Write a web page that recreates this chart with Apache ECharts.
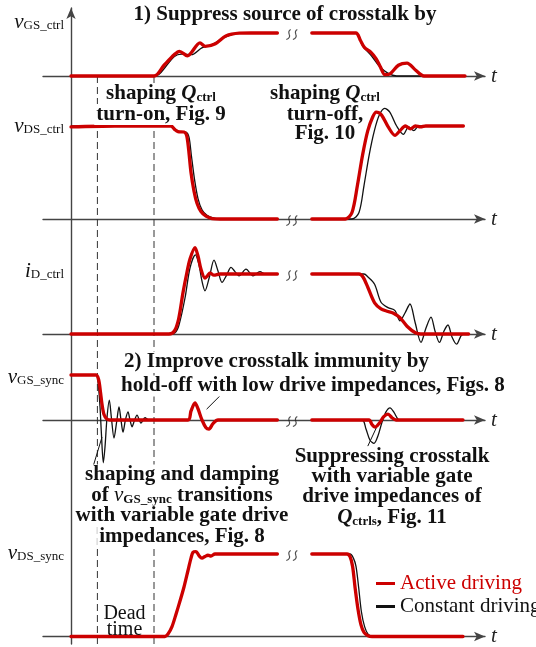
<!DOCTYPE html>
<html>
<head>
<meta charset="utf-8">
<script src="https://cdn.jsdelivr.net/npm/echarts@6/dist/echarts.min.js"></script>
<style>
  html, body { margin: 0; padding: 0; background: #fff; }
  #chart { width: 536px; height: 647px; }
</style>
</head>
<body>
<div id="chart"></div>
<script>
// ---- Waveform data: [time (a.u.), normalised level] ; '-' marks the time-axis break ----
const BREAK_T = 55.2;
const deadTime = [6.6, 20.75];

// v_GS_ctrl
const vGsCtrlActive = [[0,0],[20.75,0],[23.25,0.25],[25.85,0.5],[27.1,0.575],[29.1,0.47],[32.25,0.77],[33.55,0.69],[36.1,0.75],[38.7,0.93],[42.1,0.995],[45,1],[51.6,1],[BREAK_T,'-'],[60.2,1],[71.2,1],[72.4,0.82],[73.4,0.66],[75,0.55],[76.3,0.4],[77.4,0.2],[78.45,0.03],[79.75,0.05],[81.85,0.25],[84,0.3],[86.1,0.14],[88.25,0],[98.5,0]];
const vGsCtrlConst  = [[0,0],[20.75,0],[25.85,0.455],[27.6,0.51],[30.1,0.495],[32.7,0.654],[35.25,0.733],[38.7,0.908],[42.1,0.995],[45,1],[51.6,1],[BREAK_T,'-'],[60.2,1],[71.2,1],[72.9,0.7],[75.2,0.46],[77.15,0.22],[79.3,0.06],[81.4,0],[88.25,0],[98.5,0]];

// v_DS_ctrl
const vDsCtrlActive = [[0,0.99],[11,1],[25,1],[26,0.96],[26.75,0.94],[28.25,0.935],[28.9,0.9],[29.4,0.75],[30,0.5],[30.75,0.3],[31.5,0.17],[32.5,0.08],[33.75,0.03],[35.25,0.005],[37.25,0],[51.6,0],[BREAK_T,'-'],[60.2,0],[68.6,0],[70.25,0.07],[71.6,0.36],[72.9,0.69],[74.2,0.95],[75.45,1.1],[76.3,1.15],[77.6,1.12],[79.3,0.99],[81,0.9],[82.25,0.95],[83.6,1.0],[84.85,0.97],[86.1,1.0],[87.4,0.99],[88.7,1.0],[98.1,1.0]];
const vDsCtrlConst  = [[0,1],[25,1],[26.25,0.96],[27.25,0.94],[28.75,0.935],[29.5,0.88],[30.1,0.68],[30.9,0.42],[31.75,0.22],[32.75,0.1],[34,0.04],[35.75,0.01],[37.75,0],[51.6,0],[BREAK_T,'-'],[60.2,0],[70.25,0],[72,0.07],[73.25,0.36],[74.55,0.69],[75.85,0.95],[77.1,1.12],[78.4,1.19],[79.7,1.15],[81.4,1.0],[83.1,0.91],[84.4,0.99],[85.7,0.95],[86.95,1.0],[88.25,1.0],[98.1,1.0]];

// i_D_ctrl
const iDCtrlActive = [[0,0],[24.5,0],[25.85,0.05],[26.9,0.25],[28,0.69],[28.9,1.0],[29.75,1.25],[31,1.44],[31.75,1.3],[32.5,1.08],[33.5,0.93],[34.1,0.97],[34.75,1.02],[35.75,0.98],[37.25,1.0],[51.6,1.0],[BREAK_T,'-'],[60.2,1],[72,1],[73,0.95],[74.25,0.77],[75.9,0.52],[77.5,0.42],[79,0.38],[80.5,0.35],[82.25,0.27],[84,0.13],[86.1,0.02],[87.5,0],[99.4,0]];
const iDCtrlConst  = [[0,0],[24.5,0],[26,0.02],[27,0.15],[28.5,0.6],[29.75,1.1],[31.1,1.32],[32,1.15],[32.75,0.88],[33.5,0.72],[34.6,0.95],[35.75,1.23],[36.75,1.05],[37.75,0.86],[38.9,0.98],[40,1.11],[41,1.04],[42,0.97],[43.75,1.08],[45.5,0.97],[47.25,1.04],[48.5,1.0],[51.6,1.0],[BREAK_T,'-'],[60.2,1],[73.25,1],[74.25,0.95],[75.9,0.83],[77.5,0.53],[79.25,0.44],[81,0.39],[82.25,0.22],[83.5,0.35],[84.75,0.5],[86,0.2],[87.5,-0.14],[88.75,0.1],[90,0.28],[91,0.05],[92.1,-0.14],[93.25,0.05],[94.25,0.15],[95.25,-0.05],[96.4,-0.17],[97.5,-0.03],[98.1,0]];

// v_GS_sync
const vGsSyncActive = [[0,1],[6.25,1],[6.9,0.9],[7.4,0.6],[7.75,0.35],[8.25,0.12],[8.9,0.03],[9.75,0],[29.25,0],[30,0.2],[31,0.38],[31.75,0.25],[32.75,0],[33.75,-0.17],[34.5,-0.2],[35.5,-0.08],[36.75,0],[51.6,0],[BREAK_T,'-'],[60.2,0],[74.5,0],[75.25,-0.1],[76,-0.16],[77,-0.08],[78.25,0.08],[79.25,0.13],[80.25,0.05],[81.25,0],[98,0]];
const vGsSyncConst  = [[0,1],[6.25,1],[6.75,0.85],[7.25,0.3],[7.6,-0.3],[8.08,-0.95],[8.5,-0.6],[9,0.05],[9.58,0.44],[10.1,0.05],[10.75,-0.4],[11.4,-0.05],[12,0.29],[12.5,0],[13,-0.27],[13.6,0],[14.25,0.18],[14.75,0],[15.25,-0.15],[15.9,0],[16.5,0.11],[17.5,-0.07],[18.5,0.05],[19.5,0],[29.25,0],[30,0.2],[31,0.38],[31.75,0.25],[32.75,0],[33.75,-0.17],[34.5,-0.2],[35.5,-0.08],[36.75,0],[51.6,0],[BREAK_T,'-'],[60.2,0],[72.75,0],[73.75,-0.2],[74.75,-0.45],[75.75,-0.52],[76.75,-0.35],[77.75,-0.05],[78.75,0.18],[79.75,0.27],[80.75,0.17],[81.75,0.02],[82.75,0],[98,0]];

// v_DS_sync
const vDsSyncActive = [[0,0],[23.5,0],[24.25,0.03],[25.25,0.12],[26.25,0.27],[27.25,0.43],[28.25,0.6],[29.25,0.8],[30,0.95],[30.5,1.02],[31.25,1.03],[32,0.98],[32.75,0.95],[33.5,0.97],[34.25,0.985],[35,0.975],[36,1],[51.6,1],[BREAK_T,'-'],[60.2,1],[69,1],[69.75,0.97],[70.4,0.85],[71,0.6],[71.75,0.33],[72.5,0.14],[73.25,0.05],[74.25,0.01],[75.25,0],[98,0]];
const vDsSyncConst  = [[0,0],[23.5,0],[24.25,0.03],[25.25,0.12],[26.25,0.27],[27.25,0.43],[28.25,0.6],[29.25,0.8],[30,0.95],[30.5,1.02],[31.25,1.03],[32,0.98],[32.75,0.95],[33.5,0.97],[34.25,0.985],[35,0.975],[36,1],[51.6,1],[BREAK_T,'-'],[60.2,1],[69.75,1],[70.6,0.95],[71.25,0.85],[71.9,0.6],[72.6,0.3],[73.4,0.12],[74.25,0.03],[75.25,0.005],[76.25,0],[98,0]];

// leader lines of the v_GS_sync annotations
const leaderHoldOff  = [[33.9,0.24],[37.5,0.56]];
const leaderDamping  = [[5.4,-1.07],[7.75,-0.38]];
const leaderSuppress = [[74.2,-0.58],[76.3,-0.18]];

// level at which each panel's curve is interrupted by the break symbol
const breakLevels = [1, 0, 1, 0, 1];

// ---- layout ----
const SERIF = '"Liberation Serif", "Times New Roman", serif';
const RED = '#cc0000', BLACK = '#111111', AXIS = '#444444';
const X_MIN = -7, X_MAX = 103.5, LEFT = 43, WIDTH = 442;
const panels = [
  { top: 33,  base: 76,  active: vGsCtrlActive, constant: vGsCtrlConst },
  { top: 126, base: 219, active: vDsCtrlActive, constant: vDsCtrlConst },
  { top: 274, base: 334, active: iDCtrlActive,  constant: iDCtrlConst },
  { top: 375, base: 420, active: vGsSyncActive, constant: vGsSyncConst },
  { top: 554, base: 644, active: vDsSyncActive, constant: vDsSyncConst }
];
const OVERLAY = panels.length;      // grid holding the vertical axis
const DEAD = panels.length + 1;     // grid holding the dead-time markers

const grid = panels.map(p => ({ left: LEFT, width: WIDTH, top: p.top, height: p.base - p.top }));
grid.push({ left: LEFT, width: WIDTH, top: 8, height: 636 });
grid.push({ left: LEFT, width: WIDTH, top: 77, height: 567 });

const hidden = { show: false };
const xAxis = panels.map((p, i) => ({
  gridIndex: i, type: 'value', min: X_MIN, max: X_MAX,
  name: 't', nameLocation: 'end', nameGap: 6,
  nameTextStyle: { fontFamily: SERIF, fontStyle: 'italic', fontSize: 21, color: '#222', verticalAlign: 'middle' },
  axisLine: { show: true, onZero: false, symbol: ['none', 'arrow'], symbolSize: [7, 11], lineStyle: { color: AXIS, width: 1.4 } },
  axisTick: hidden, axisLabel: hidden, splitLine: hidden
}));
const yAxis = panels.map((p, i) => ({ gridIndex: i, type: 'value', min: 0, max: 1, show: false }));

xAxis.push({ gridIndex: OVERLAY, type: 'value', min: X_MIN, max: X_MAX, axisLine: hidden, axisTick: hidden, axisLabel: hidden, splitLine: hidden });
yAxis.push({ gridIndex: OVERLAY, type: 'value', min: 0, max: 1,
  axisLine: { show: true, onZero: true, symbol: ['none', 'arrow'], symbolSize: [7, 11], lineStyle: { color: AXIS, width: 1.4 } },
  axisTick: hidden, axisLabel: hidden, splitLine: hidden });
xAxis.push({ gridIndex: DEAD, type: 'value', min: X_MIN, max: X_MAX, show: false });
yAxis.push({ gridIndex: DEAD, type: 'value', min: 0, max: 1, show: false });

// break symbol: two small leaning S-strokes
const BREAK_SYMBOL = 'path://M4.5,0 C2.5,1 2.5,3 3.2,5 C4,7 3,9 0.5,10 M10.5,0 C8.5,1 8.5,3 9.2,5 C10,7 9,9 6.5,10';

const series = [];
panels.forEach((p, i) => {
  series.push({
    type: 'line', name: 'Constant driving', xAxisIndex: i, yAxisIndex: i, data: p.constant,
    smooth: 0.3, symbol: 'none', clip: false, color: BLACK, z: 10,
    lineStyle: { color: BLACK, width: 1.3 }
  });
  series.push({
    type: 'line', name: 'Active driving', xAxisIndex: i, yAxisIndex: i, data: p.active,
    smooth: 0.3, symbol: 'none', clip: false, color: RED, z: 11,
    lineStyle: { color: RED, width: 3.3, cap: 'round', join: 'round' }
  });
  series.push({
    type: 'scatter', xAxisIndex: i, yAxisIndex: i, data: [[BREAK_T, breakLevels[i]]],
    symbol: BREAK_SYMBOL, symbolSize: [11, 10], symbolOffset: [0, 1.5], z: 12,
    itemStyle: { color: 'rgba(0,0,0,0)', borderColor: '#222', borderWidth: 1.1 }, silent: true
  });
});
[leaderHoldOff, leaderDamping, leaderSuppress].forEach(d => series.push({
  type: 'line', xAxisIndex: 3, yAxisIndex: 3, data: d, symbol: 'none', clip: false, z: 12,
  lineStyle: { color: BLACK, width: 1 }, silent: true
}));
deadTime.forEach(t => series.push({
  type: 'line', xAxisIndex: DEAD, yAxisIndex: DEAD, data: [[t, 0], [t, 1]], symbol: 'none', z: 1,
  lineStyle: { color: '#333', width: 1, type: [7, 4] }, silent: true
}));

// ---- text ----
const richSub = (size) => ({
  q: { fontFamily: SERIF, fontSize: size, fontWeight: 'bold', fontStyle: 'italic', fill: BLACK },
  v: { fontFamily: SERIF, fontSize: size, fontStyle: 'italic', fill: BLACK },
  s: { fontFamily: SERIF, fontSize: 13, fontWeight: 'bold', fill: BLACK, verticalAlign: 'bottom' },
  n: { fontFamily: SERIF, fontSize: 13, fill: BLACK, verticalAlign: 'bottom' }
});
function txt(text, x, y, opts) {
  opts = opts || {};
  const style = {
    text, x, y, fill: BLACK,
    fontFamily: SERIF, fontSize: opts.size || 21, fontWeight: opts.weight || 'bold',
    align: opts.align || 'center', verticalAlign: 'middle',
    rich: richSub(opts.size || 21)
  };
  if (opts.bg) { style.backgroundColor = '#fff'; style.padding = [0, 2]; }
  return { type: 'text', z: 50, silent: true, style };
}
const graphic = [
  txt('1) Suppress source of crosstalk by', 285, 15),
  txt('shaping {q|Q}{s|ctrl}', 161, 94, { bg: true }),
  txt('turn-on, Fig. 9', 161, 114.5, { bg: true }),
  txt('shaping {q|Q}{s|ctrl}', 325, 94),
  txt('turn-off,', 325, 114.5),
  txt('Fig. 10', 325, 134),
  txt('2) Improve crosstalk immunity by', 122, 362, { align: 'left', bg: true }),
  txt('hold-off with low drive impedances, Figs. 8', 119, 386, { align: 'left', bg: true }),
  txt('shaping and damping', 182, 475, { bg: true }),
  txt('of {v|v}{s|GS_sync} transitions', 182, 495.5, { bg: true }),
  txt('with variable gate drive', 182, 516, { bg: true }),
  txt('impedances, Fig. 8', 182, 536.5, { bg: true }),
  txt('Suppressing crosstalk', 392, 457),
  txt('with variable gate', 392, 477),
  txt('drive impedances of', 392, 497),
  txt('{q|Q}{s|ctrls}, Fig. 11', 392, 517.5),
  txt('Dead', 124.5, 614, { weight: 'normal', size: 20 }),
  txt('time', 124.5, 630, { weight: 'normal', size: 20 }),
  txt('{v|v}{n|GS_ctrl}', 64, 22, { align: 'right', weight: 'normal' }),
  txt('{v|v}{n|DS_ctrl}', 64, 126, { align: 'right', weight: 'normal' }),
  txt('{v|i}{n|D_ctrl}', 64, 271, { align: 'right', weight: 'normal' }),
  txt('{v|v}{n|GS_sync}', 64, 377, { align: 'right', weight: 'normal' }),
  txt('{v|v}{n|DS_sync}', 64, 553, { align: 'right', weight: 'normal' })
];

const chart = echarts.init(document.getElementById('chart'), null, { renderer: 'canvas' });
chart.setOption({
  animation: false,
  backgroundColor: '#fff',
  grid, xAxis, yAxis, series, graphic,
  legend: {
    orient: 'vertical', left: 371, top: 568, icon: 'rect', itemWidth: 19, itemHeight: 3, itemGap: 2,
    selectedMode: false,
    textStyle: { fontFamily: SERIF, fontSize: 21 },
    data: [
      { name: 'Active driving', textStyle: { color: RED } },
      { name: 'Constant driving', textStyle: { color: BLACK } }
    ]
  }
});
</script>
</body>
</html>
